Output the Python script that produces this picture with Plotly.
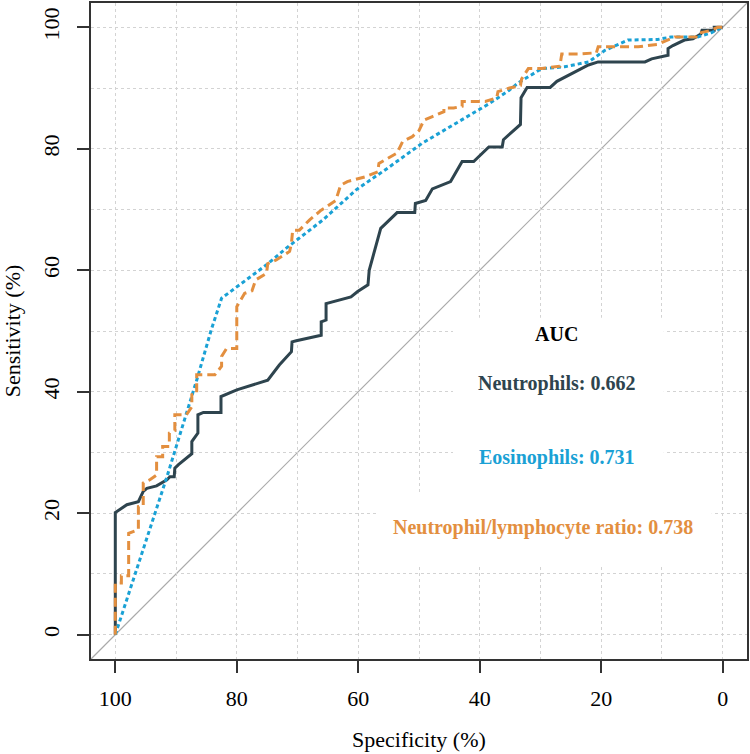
import plotly.graph_objects as go

# ---------------- data ----------------
neut_spec = [100, 100, 98.1, 96.2, 95.4, 94.8, 93.2, 91.5, 91.0, 90.3, 90.2, 89.6, 87.4, 87.4,
             86.4, 86.4, 85.5, 82.6, 82.6, 80.0, 74.9, 73.0, 71.0, 70.9, 70.2, 66.1, 66.1, 65.3,
             65.3, 61.2, 60.1, 58.4, 58.2, 57.4, 56.3, 53.6, 50.7, 50.6, 48.9, 47.8, 44.8, 42.9,
             41.0, 38.5, 36.3, 36.1, 33.3, 33.2, 32.2, 28.4, 27.3, 22.1, 20.5, 12.8, 11.7, 9.0,
             9.0, 8.2, 7.1, 6.3, 4.9, 3.6, 3.4, 1.4, 1.4, 0]
neut_sens = [0, 20.1, 21.4, 21.9, 23.6, 24.1, 24.5, 25.5, 26.0, 26.0, 27.4, 28.0, 29.8, 31.8,
             33.2, 36.2, 36.6, 36.6, 39.2, 40.3, 41.9, 44.4, 46.6, 48.2, 48.4, 49.3, 51.5, 51.8,
             54.5, 55.6, 56.5, 57.6, 60.0, 62.8, 66.9, 69.5, 69.5, 71.0, 71.5, 73.4, 74.6, 77.9,
             77.9, 80.3, 80.3, 81.5, 84.0, 88.4, 90.1, 90.1, 91.1, 93.8, 94.3, 94.3, 94.8, 95.4,
             96.5, 97.0, 97.6, 97.9, 98.1, 98.9, 99.5, 99.5, 100, 100]

eos_spec = [100, 96.7, 91.5, 86.6, 84.2, 82.5, 79.5, 75.1, 71.9, 69.1, 65.8, 60.4, 54.9, 49.5,
            44.0, 38.5, 35.2, 33.6, 29.8, 26.0, 22.1, 19.4, 15.6, 10.7, 8.5, 4.1, 1.9, 0]
eos_sens = [0, 10.1, 26.0, 41.9, 50.2, 55.4, 57.6, 60.9, 63.6, 65.8, 68.3, 73.2, 77.0, 80.9,
            84.2, 87.4, 89.6, 90.9, 93.2, 93.5, 94.3, 96.2, 97.9, 98.0, 98.4, 98.4, 99.1, 100]

nlr_spec = [100, 100, 99.0, 99.0, 97.8, 97.8, 96.2, 96.2, 95.4, 95.4, 94.3, 93.2, 93.2, 92.2,
            92.2, 91.1, 91.1, 90.2, 90.2, 88.3, 87.4, 87.4, 86.6, 86.6, 83.6, 82.5, 82.5, 81.7,
            80.0, 80.0, 78.7, 77.5, 76.9, 75.1, 74.9, 73.5, 71.3, 71.0, 70.8, 69.7, 68.0, 66.1,
            65.3, 63.7, 62.9, 61.8, 58.8, 56.8, 56.6, 54.6, 53.6, 52.7, 51.1, 50.0, 49.2, 47.8,
            45.9, 45.9, 44.3, 42.9, 42.9, 39.1, 37.2, 37.0, 35.1, 33.3, 33.1, 32.0, 29.8, 26.8,
            26.5, 23.8, 20.8, 20.5, 17.2, 13.9, 10.7, 7.9, 4.4, 4.1, 1.9, 0.8, 0]
nlr_sens = [0, 8.5, 8.5, 9.7, 9.7, 16.7, 17.3, 21.1, 21.2, 25.0, 25.5, 26.3, 29.3, 29.3,
            31.0, 31.0, 33.2, 33.6, 36.2, 36.2, 37.5, 39.5, 39.7, 42.8, 42.8, 44.2, 45.8, 47.1,
            47.1, 54.0, 56.2, 56.6, 58.4, 59.5, 61.1, 61.7, 63.1, 64.4, 66.6, 66.6, 68.3, 69.9,
            70.4, 71.5, 74.0, 74.6, 75.4, 76.2, 77.6, 78.7, 79.3, 81.2, 82.0, 83.0, 84.7, 85.3,
            86.1, 86.7, 86.7, 87.0, 87.8, 87.8, 88.4, 89.4, 90.0, 90.4, 91.5, 93.2, 93.2, 93.6,
            95.6, 95.6, 95.8, 96.8, 96.8, 96.8, 97.2, 98.4, 98.4, 99.0, 99.5, 100, 100]

auc_labels = ["Neutrophils: 0.662", "Eosinophils: 0.731", "Neutrophil/lymphocyte ratio: 0.738"]
tick_vals = [0, 20, 40, 60, 80, 100]
x_title = "Specificity (%)"
y_title = "Sensitivity (%)"

# ---------------- styles ----------------
C_NEUT = "#2E444E"
C_EOS = "#1AA1D5"
C_NLR = "#E38F3F"
FONT = "Liberation Serif"
GRID = "#D3D3D3"
AX = "#333333"

fig = go.Figure()
fig.add_trace(go.Scatter(x=neut_spec, y=neut_sens, mode="lines", name="Neutrophils",
                         line=dict(color=C_NEUT, width=3), showlegend=False))
fig.add_trace(go.Scatter(x=eos_spec, y=eos_sens, mode="lines", name="Eosinophils",
                         line=dict(color=C_EOS, width=3, dash="4px,3px"), showlegend=False))
fig.add_trace(go.Scatter(x=nlr_spec, y=nlr_sens, mode="lines", name="Neutrophil/lymphocyte ratio",
                         line=dict(color=C_NLR, width=3, dash="9px,5px"), showlegend=False))

# white backgrounds behind the AUC texts (cover grid)
fig.add_shape(type="rect", x0=44.4, x1=9.7, y0=23.3, y1=52.2, xref="x", yref="y",
              fillcolor="white", line=dict(width=0), layer="between")
fig.add_shape(type="rect", x0=56.7, x1=1.8, y0=11.5, y1=23.3, xref="x", yref="y",
              fillcolor="white", line=dict(width=0), layer="between")
# chance diagonal
fig.add_shape(type="line", x0=0, y0=0, x1=1, y1=1, xref="paper", yref="paper",
              line=dict(color="#AAAAAA", width=1.2), layer="between")

ann_font = dict(family=FONT, size=20)
fig.add_annotation(x=27.3, y=49.5, text="<b>AUC</b>", showarrow=False,
                   font=dict(ann_font, color="black"))
fig.add_annotation(x=27.3, y=41.4, text="<b>" + auc_labels[0] + "</b>", showarrow=False,
                   font=dict(ann_font, color=C_NEUT))
fig.add_annotation(x=27.3, y=29.2, text="<b>" + auc_labels[1] + "</b>", showarrow=False,
                   font=dict(ann_font, color=C_EOS))
fig.add_annotation(x=29.6, y=17.7, text="<b>" + auc_labels[2] + "</b>", showarrow=False,
                   font=dict(ann_font, color=C_NLR))

# axis titles
title_font = dict(family=FONT, size=22, color="black")
fig.add_annotation(x=0.5, y=0, xref="paper", yref="paper", text=x_title, yshift=-80,
                   showarrow=False, xanchor="center", yanchor="middle", font=title_font)
fig.add_annotation(x=-0.12, y=0.5, xref="paper", yref="paper", text=y_title,
                   showarrow=False, xanchor="center", yanchor="middle", textangle=-90,
                   font=title_font)

axis_common = dict(
    tickvals=tick_vals, ticks="outside", ticklen=12, tickwidth=2, tickcolor=AX,
    showline=True, linecolor=AX, linewidth=2, mirror=True, automargin=False,
    showgrid=True, gridcolor=GRID, griddash="dot", gridwidth=1, zeroline=False,
    minor=dict(dtick=10, tick0=0, showgrid=True, gridcolor=GRID, griddash="dot",
               gridwidth=1, ticks=""),
    tickfont=dict(family=FONT, size=22, color="black"),
)

fig.update_layout(
    width=750, height=754,
    margin=dict(l=91, r=3, t=3, b=95),
    paper_bgcolor="white", plot_bgcolor="white",
    xaxis=dict(axis_common, range=[104, -4], ticklabelstandoff=7),
    yaxis=dict(axis_common, range=[-4, 104], tickangle=-90, ticklabelstandoff=9),
)

fig.write_html("out.html", config={"displayModeBar": False},
               post_script="document.body.style.margin='0';document.body.style.overflow='hidden';")
